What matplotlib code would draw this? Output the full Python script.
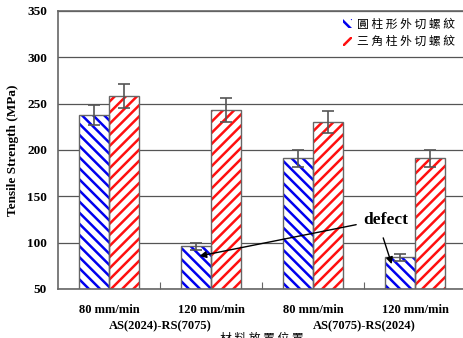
import matplotlib
matplotlib.use("Agg")
from matplotlib import pyplot as plt
from matplotlib.patches import Patch
import numpy as np

# data
speeds = ["80 mm/min", "120 mm/min", "80 mm/min", "120 mm/min"]
groups = ["AS(2024)-RS(7075)", "AS(7075)-RS(2024)"]
legend_names = ["圓 柱 形 外 切 螺 紋", "三 角 柱 外 切 螺 紋"]
cyl_strength = [238, 96, 191, 84]
cyl_err = [11, 4, 9, 4]
tri_strength = [258, 243, 230, 191]
tri_err = [13, 13, 12, 9]

# arrow targets / text spot for the "defect" note (data coords)
defect_text = (2.45, 120)
defect_heads = [(0.86, 85), (2.78, 74)]

plt.rcParams['hatch.linewidth'] = 1.8
serif = ['Liberation Serif', 'DejaVu Serif']
cjk = ['Noto Sans CJK TC', 'DejaVu Sans']

fig = plt.figure(figsize=(4.63, 3.38), dpi=100)
ax = fig.add_axes([58 / 463, 0.145, 408 / 463, 0.8225])

x = np.arange(len(speeds))
w = 0.294
edge = '#666666'

# hatch colour follows edgecolor, so draw the hatch and the outline separately
ax.bar(x - w / 2, cyl_strength, w, color='white', edgecolor='#0000ee',
       hatch='\\\\\\', linewidth=0, zorder=2)
ax.bar(x - w / 2, cyl_strength, w, color='none', edgecolor=edge, linewidth=1, zorder=3)
ax.bar(x + w / 2, tri_strength, w, color='white', edgecolor='#ff1010',
       hatch='///', linewidth=0, zorder=2)
ax.bar(x + w / 2, tri_strength, w, color='none', edgecolor=edge, linewidth=1, zorder=3)

ax.errorbar(x - w / 2, cyl_strength, yerr=cyl_err, fmt='none', ecolor='#555555',
            elinewidth=1.2, capsize=4, capthick=1.2, zorder=4)
ax.errorbar(x + w / 2, tri_strength, yerr=tri_err, fmt='none', ecolor='#555555',
            elinewidth=1.2, capsize=4, capthick=1.2, zorder=4)

ax.set_xlim(-0.5, 3.5)
ax.set_ylim(50, 350)
ax.set_yticks(np.arange(50, 351, 50))
ax.yaxis.grid(True, color='#555555', linewidth=0.9)
ax.set_axisbelow(True)
ax.tick_params(axis='y', length=0, pad=8)
for lab in ax.get_yticklabels():
    lab.set_fontfamily(serif)
    lab.set_fontweight('bold')
    lab.set_fontsize(9.5)

ax.set_xticks([0.5, 1.5, 2.5])
ax.set_xticklabels([])
ax.tick_params(axis='x', direction='in', length=5, color=edge)
for s in ax.spines.values():
    s.set_color(edge)
    s.set_linewidth(1.2)

for i, sp in enumerate(speeds):
    ax.text(i, -0.075, sp, transform=ax.get_xaxis_transform(), ha='center', va='center',
            family=serif, weight='bold', fontsize=9)
for j, g in enumerate(groups):
    ax.text(2 * j + 0.5, -0.135, g, transform=ax.get_xaxis_transform(), ha='center',
            va='center', family=serif, weight='bold', fontsize=9)
fig.text(262 / 463, 1 - 332 / 338, "材 料 放 置 位 置", ha='center', va='top',
         family=cjk, fontsize=8.5)

ax.set_ylabel("Tensile Strength (MPa)", family=serif, weight='bold', fontsize=9.5,
              labelpad=6)

ax.text(defect_text[0] + 0.26, defect_text[1] + 4, "defect", family=serif, weight='bold',
        fontsize=12.5, ha='center', va='center')
ax.annotate("", xy=defect_heads[0], xytext=defect_text,
            arrowprops=dict(arrowstyle='-|>', color='black', lw=1, mutation_scale=10))
ax.annotate("", xy=defect_heads[1], xytext=(2.68, 108),
            arrowprops=dict(arrowstyle='-|>', color='black', lw=1, mutation_scale=10))

handles = [Patch(facecolor='white', edgecolor='#0000ee', hatch='\\\\\\', linewidth=0),
           Patch(facecolor='white', edgecolor='#ff1010', hatch='///', linewidth=0)]
leg = fig.legend(handles, legend_names, loc='upper right', bbox_to_anchor=(1.005, 0.978),
                 frameon=False, handlelength=0.8, handleheight=0.8, handletextpad=0.4,
                 labelspacing=0.35, prop={'family': cjk, 'size': 8.5})

fig.savefig("out.png", dpi=100)
